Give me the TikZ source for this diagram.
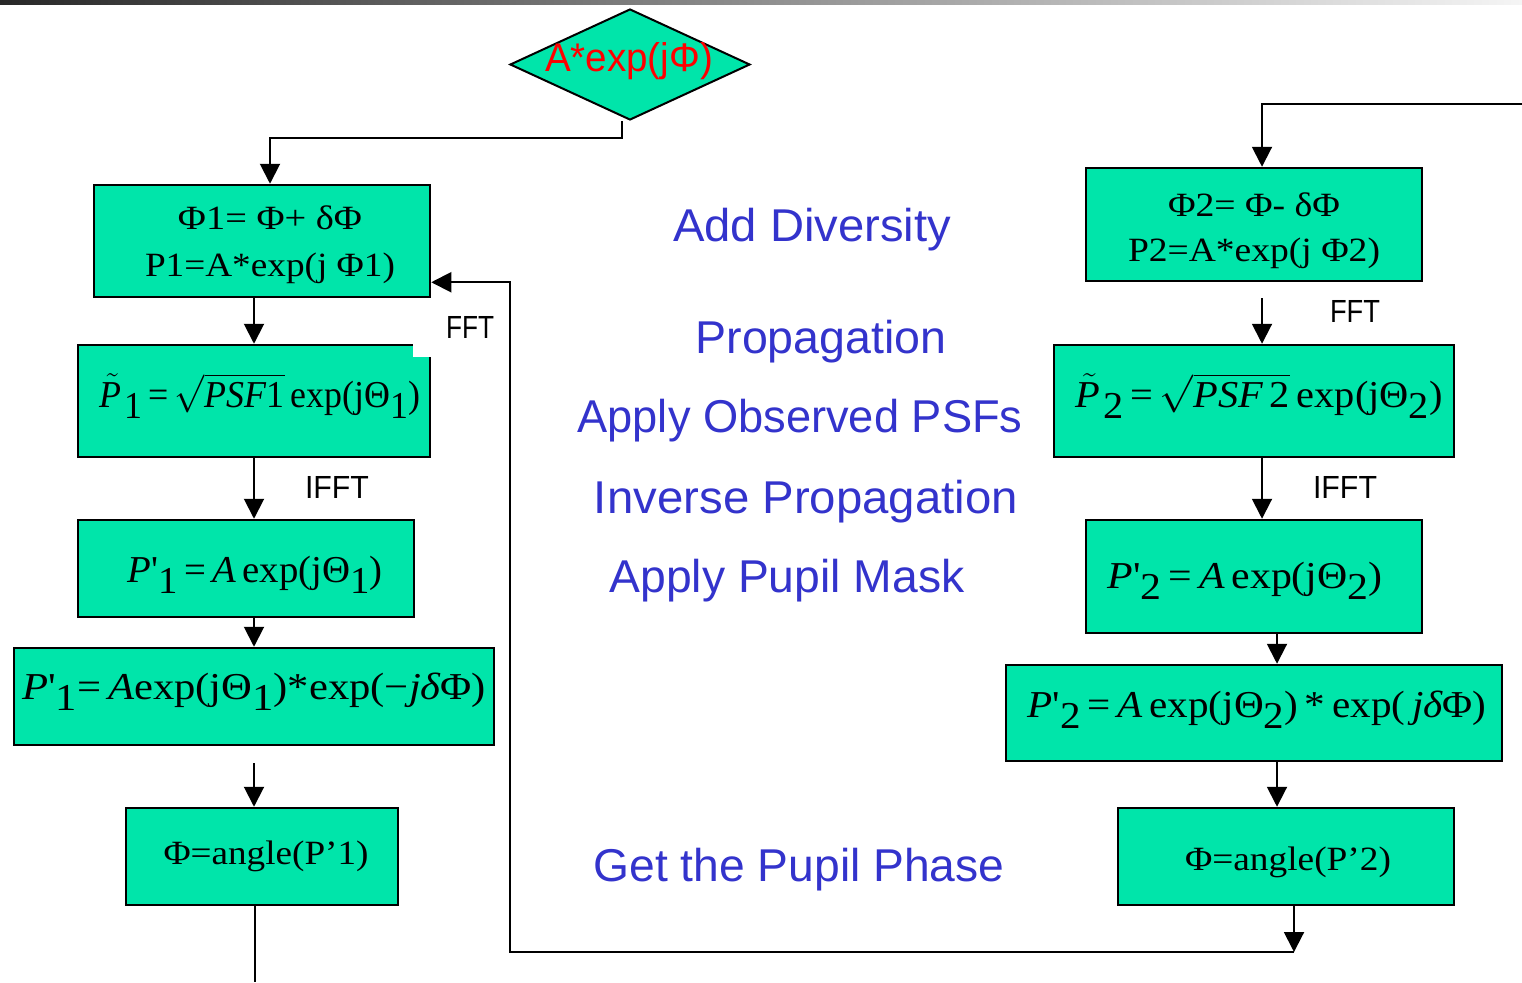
\RequirePackage{fix-cm}
\documentclass[tikz,border=0pt]{standalone}
\usepackage{fontspec}
\setmainfont{Liberation Serif}
\newfontfamily\sansf{Liberation Sans}
\usepackage{graphicx}
\usetikzlibrary{arrows.meta,shapes.geometric}
\definecolor{boxgreen}{RGB}{0,229,170}
\definecolor{bluetxt}{RGB}{51,51,204}
\definecolor{topdark}{RGB}{40,40,40}
\definecolor{toplight}{RGB}{245,245,245}
\newcommand\fitw[2]{\resizebox{#1}{\height}{#2}}
\newcommand\sub[1]{\raisebox{-0.3em}{#1}}
\newcommand\tP{$\tilde{\mbox{\itshape P\kern0.08em}}$}
\newcommand\pr{\textquotesingle}
\begin{document}
\begin{tikzpicture}[x=1pt,y=-1pt,
  box/.style={draw=black, line width=2.5pt, fill=boxgreen, inner sep=0pt},
  ftxt/.style={inner sep=0pt, font=\fontsize{34}{40}\selectfont, align=center},
  mtxt/.style={inner sep=0pt, font=\fontsize{38}{44}\selectfont},
  blue/.style={inner sep=0pt, text=bluetxt, font=\sansf\fontsize{46}{52}\selectfont},
  lab/.style={inner sep=0pt, font=\sansf\fontsize{32}{36}\selectfont},
  arr/.style={line width=2pt, -{Triangle[width=20pt,length=20pt]}},
  plain/.style={line width=2pt}]
\useasboundingbox (0,0) rectangle (1522,982);
\shade[left color=topdark, right color=toplight] (0,0) rectangle (1522,5);

% diamond
\node[diamond, draw=black, line width=2pt, fill=boxgreen, minimum width=240pt, minimum height=111pt, inner sep=0pt] (D) at (630,64.5) {};
\node[inner sep=0pt, text=red, font=\sansf\fontsize{40}{46}\selectfont] (Dt) at (629,61) {\fitw{168pt}{A*exp(jΦ)}};

% left column boxes
\node[box, minimum width=336pt, minimum height=112pt] (L1) at (262,241) {};
\node[box, minimum width=352pt, minimum height=112pt] (L2) at (254,401) {};
\node[box, minimum width=336pt, minimum height=97pt] (L3) at (246,568.5) {};
\node[box, minimum width=480pt, minimum height=97pt] (L4) at (254,696.5) {};
\node[box, minimum width=272pt, minimum height=97pt] (L5) at (262,856.5) {};

% right column boxes
\node[box, minimum width=336pt, minimum height=113pt] (R1) at (1254,224.5) {};
\node[box, minimum width=400pt, minimum height=112pt] (R2) at (1254,401) {};
\node[box, minimum width=336pt, minimum height=113pt] (R3) at (1254,576.5) {};
\node[box, minimum width=496pt, minimum height=96pt] (R4) at (1254,713) {};
\node[box, minimum width=336pt, minimum height=97pt] (R5) at (1286,856.5) {};

% box texts
\node[ftxt, font=\fontsize{34}{47}\selectfont] (L1t) at (270,244.5) {\fitw{184pt}{Φ1= Φ+ δΦ}\\ \fitw{250pt}{P1=A*exp(j Φ1)}};
\node[mtxt] (L2t) at (260,396) {\fitw{320pt}{\tP\sub{1}\,=\,$\sqrt{\mbox{\itshape PSF\upshape 1}}$\,exp(jΘ\sub{1})}};
\node[mtxt] (L3t) at (255,575) {\fitw{255pt}{{\itshape P}\pr\sub{1}\,=\,{\itshape A}\,exp(jΘ\sub{1})}};
\node[mtxt] (L4t) at (254,692) {\fitw{464pt}{{\itshape P}\pr\sub{1}=\,{\itshape A}exp(jΘ\sub{1})*exp(−{\itshape jδ}Φ)}};
\node[ftxt] (L5t) at (266,856) {\fitw{205pt}{Φ=angle(P’1)}};

\node[ftxt, font=\fontsize{34}{45}\selectfont] (R1t) at (1254,230.5) {\fitw{172pt}{Φ2= Φ- δΦ}\\ \fitw{252pt}{P2=A*exp(j Φ2)}};
\node[mtxt] (R2t) at (1259,396) {\fitw{367pt}{\tP\sub{2}\,=\,$\sqrt{\mbox{\itshape PSF\,\upshape 2}}$\,exp(jΘ\sub{2})}};
\node[mtxt] (R3t) at (1245,581) {\fitw{275pt}{{\itshape P}\pr\sub{2}\,=\,{\itshape A}\,exp(jΘ\sub{2})}};
\node[mtxt] (R4t) at (1257,710) {\fitw{459pt}{{\itshape P}\pr\sub{2}\,=\,{\itshape A}\,exp(jΘ\sub{2})\,*\,exp(\,{\itshape jδ}Φ)}};
\node[ftxt] (R5t) at (1288,862) {\fitw{206pt}{Φ=angle(P’2)}};

% middle blue texts
\node[blue] (b1) at (812,230) {\fitw{278pt}{Add Diversity}};
\node[blue] (b2) at (821,342) {\fitw{251pt}{Propagation}};
\node[blue] (b3) at (800,421) {\fitw{445pt}{Apply Observed PSFs}};
\node[blue] (b4) at (806,502) {\fitw{424pt}{Inverse Propagation}};
\node[blue] (b5) at (787,581) {\fitw{355pt}{Apply Pupil Mask}};
\node[blue] (b6) at (799,870) {\fitw{411pt}{Get the Pupil Phase}};

% connectors left
\draw[arr] ([xshift=-8pt]D.south) -- ++(0,17) -| ([xshift=8pt]L1.north);
\draw[arr] (L1.south -| L2.north) -- (L2.north);
\draw[arr] (L2.south) -- (L2.south |- L3.north);
\draw[arr] (L3.south -| L4.north) -- (L4.north);
\draw[arr] ([yshift=-17pt]L4.south) -- (L4.south |- L5.north);
\coordinate (Lend) at (255,982);
\draw[plain] (L5.south -| Lend) -- (Lend);

% labels
\node[lab, fill=white, minimum width=114pt, minimum height=59pt] (fft1) at (470,327.5) {\fitw{48pt}{FFT}};
\node[lab] (ifft1) at (337,487) {\fitw{64pt}{IFFT}};
\node[lab] (fft2) at (1355,311) {\fitw{50pt}{FFT}};
\node[lab] (ifft2) at (1345,487) {\fitw{64pt}{IFFT}};

% connectors right
\coordinate (Rin) at (1522,104);
\draw[arr] (Rin) -| ([xshift=8pt]R1.north);
\draw[arr] ([xshift=8pt,yshift=-16pt]R1.south) -- ([xshift=8pt]R2.north);
\draw[arr] ([xshift=8pt]R2.south) -- ([xshift=8pt]R3.north);
\draw[arr] ([xshift=23pt]R3.south) -- ([xshift=23pt]R4.north);
\draw[arr] ([xshift=23pt]R4.south) -- ([xshift=-9pt]R5.north);
\coordinate (loopA) at (1294,952);
\coordinate (loopB) at (510,952);
\draw[arr] ([xshift=8pt]R5.south) -- (loopA);
\draw[arr] (loopA) -- (loopB) |- ([yshift=16pt]L1.south east);
\end{tikzpicture}
\end{document}
